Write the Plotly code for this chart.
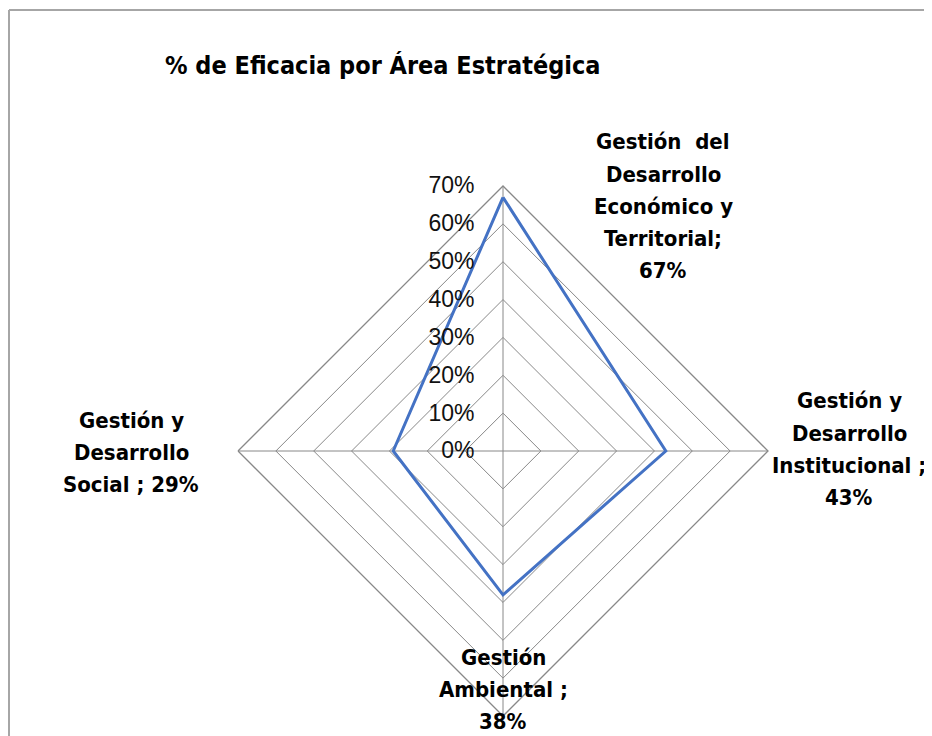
import plotly.graph_objects as go

categories = ["Gestión del Desarrollo Económico y Territorial", "Gestión y Desarrollo Institucional",
              "Gestión Ambiental", "Gestión y Desarrollo Social"]
values = [0.67, 0.43, 0.38, 0.29]
label_lines = [
    ["Gestión  del", "Desarrollo", "Económico y", "Territorial;", "67%"],
    ["Gestión y", "Desarrollo", "Institucional ;", "43%"],
    ["Gestión", "Ambiental ;", "38%"],
    ["Gestión y", "Desarrollo", "Social ; 29%"],
]
tick_vals = [0, 0.1, 0.2, 0.3, 0.4, 0.5, 0.6, 0.7]
tick_text = ["0%", "10%", "20%", "30%", "40%", "50%", "60%", "70%"]
title = "% de Eficacia por Área Estratégica"

W, H = 932, 736
OFF = 8  # page body margin
cx, cy, R = 503 - OFF, 451 - OFF, 265

fig = go.Figure()
fig.add_trace(go.Scatterpolar(
    r=values + values[:1], theta=categories + categories[:1],
    mode="lines", line=dict(color="#4472C4", width=3), showlegend=False, hoverinfo="skip",
))

BOLD = "DejaVu Sans Condensed, Liberation Sans, Arial, sans-serif"
GRID = "#888888"

fig.update_layout(
    width=W, height=H,
    margin=dict(l=0, r=0, t=0, b=0),
    paper_bgcolor="white", plot_bgcolor="white",
    polar=dict(
        domain=dict(x=[(cx - R) / W, (cx + R) / W], y=[(H - cy - R) / H, (H - cy + R) / H]),
        bgcolor="white",
        gridshape="linear",
        angularaxis=dict(direction="clockwise", rotation=90, categoryorder="array",
                         categoryarray=categories, showticklabels=False, ticks="",
                         showgrid=True, gridcolor=GRID, gridwidth=1.3,
                         showline=True, linecolor=GRID, linewidth=1.3),
        radialaxis=dict(range=[0, 0.7], tickvals=tick_vals, ticktext=tick_text, angle=90,
                        tickangle=90, side="counterclockwise", showline=False,
                        ticks="outside", ticklen=20, tickcolor="rgba(0,0,0,0)",
                        showgrid=True, gridcolor=GRID, gridwidth=1.3,
                        tickfont=dict(family="Liberation Sans, Arial, sans-serif", size=23, color="#111")),
    ),
    shapes=[
        dict(type="line", xref="paper", yref="paper", x0=(9 - OFF) / W, x1=(9 - OFF) / W, y0=0,
             y1=1 - (10 - OFF) / H, line=dict(color="#a6a6a6", width=2)),
        dict(type="line", xref="paper", yref="paper", x0=(9 - OFF) / W, x1=1.0, y0=1 - (10 - OFF) / H,
             y1=1 - (10 - OFF) / H, line=dict(color="#a6a6a6", width=2)),
    ],
)

fig.add_annotation(text="<b>" + title + "</b>", xref="paper", yref="paper",
                   x=(163 - OFF) / W, y=1 - (65 - OFF) / H, xanchor="left", yanchor="middle",
                   showarrow=False, font=dict(family=BOLD, size=25, color="black"))

# label anchor: (center x, y of first line) in page pixels, line step 32
label_pos = [(663, 142), (849, 401), (503, 657), (131, 420)]
STEP = 32
for lines, (lx, ly) in zip(label_lines, label_pos):
    for i, line in enumerate(lines):
        fig.add_annotation(text="<b>" + line + "</b>", xref="paper", yref="paper",
                           x=(lx - OFF) / W, y=1 - (ly + i * STEP - OFF) / H,
                           xanchor="center", yanchor="middle", showarrow=False,
                           font=dict(family=BOLD, size=22, color="black"))

fig.write_html("out.html")
